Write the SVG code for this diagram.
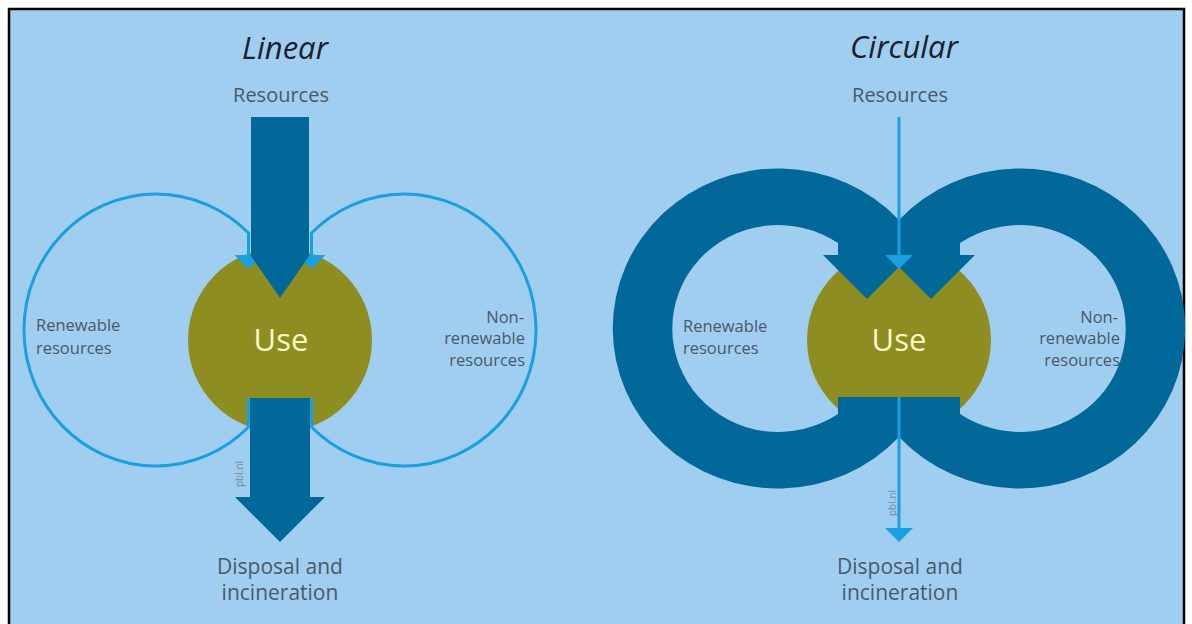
<svg xmlns="http://www.w3.org/2000/svg" xmlns:xlink="http://www.w3.org/1999/xlink" width="1192" height="624" viewBox="0 0 1192 624">
  <style>
    .title { font-family: "Open Sans", "Liberation Sans", sans-serif; font-style: italic; font-size: 31px; fill: #1b202c; text-anchor: middle; }
    .lbl { font-family: "Open Sans", "Liberation Sans", sans-serif; font-size: 20px; fill: #4a5968; text-anchor: middle; }
    .small { font-family: "Open Sans", "Liberation Sans", sans-serif; font-size: 16.5px; fill: #4a5968; }
    .end { text-anchor: end; }
    .use { font-family: "Open Sans", "Liberation Sans", sans-serif; font-size: 31px; fill: #fbf8c8; text-anchor: middle; }
    .pbl { font-family: "Open Sans", "Liberation Sans", sans-serif; font-size: 10px; fill: #7d8c9c; }
    .olive { fill: #8e8d21; }
    .dark { fill: #02689a; }
    .thin { stroke: #1a9fe0; stroke-width: 3; fill: none; }
    .thinhead { fill: #1a9fe0; }
  </style>
  <defs>
    <path id="ringL" d="M 899,220 A 165 160 0 1 0 899,437 L 899,397 L 838,397 L 838,414 A 106 103.5 0 1 1 838,243 L 838,255 L 823,255 L 867,299 L 911,255 L 899,255 Z"/>
  </defs>
  <rect x="0" y="0" width="1192" height="624" fill="#ffffff"/>
  <rect x="9" y="9" width="1175" height="630" fill="#9fcef1" stroke="#000000" stroke-width="2.5"/>

  <!-- Linear -->
  <g id="linear-title">
    <text class="title" x="285" y="59">Linear</text>
  </g>
  <g id="linear-resources">
    <text class="lbl" x="281" y="102">Resources</text>
  </g>
  <g id="linear-use">
    <circle class="olive" cx="280" cy="340" r="92"/>
    <text class="use" x="281" y="351">Use</text>
  </g>
  <g id="linear-renewable">
    <text class="small" x="36" y="331">Renewable</text>
    <text class="small" x="36" y="354">resources</text>
  </g>
  <g id="linear-nonrenewable">
    <text class="small end" x="524" y="323">Non-</text>
    <text class="small end" x="525" y="344">renewable</text>
    <text class="small end" x="525" y="366">resources</text>
  </g>
  <g id="linear-disposal">
    <text class="lbl" x="280" y="574" style="font-size:21px">Disposal and</text>
    <text class="lbl" x="280" y="600" style="font-size:21px">incineration</text>
  </g>
  <g id="linear-connectors">
    <path class="thin" d="M 248.5,398 L 248.5,427 A 132 136 0 1 1 248.5,233 L 248.5,256"/>
    <polygon class="thinhead" points="234.5,255 262.5,255 248.5,269"/>
    <path class="thin" d="M 311.5,398 L 311.5,427 A 132 136 0 1 0 311.5,233 L 311.5,256"/>
    <polygon class="thinhead" points="297.5,255 325.5,255 311.5,269"/>
    <polygon class="dark" points="251,117 309,117 309,256 280,298 251,256"/>
    <polygon class="dark" points="250,398 310,398 310,497 325,497 280,542 235,497 250,497"/>
    <text class="pbl" transform="translate(243,487) rotate(-90)">pbl.nl</text>
  </g>

  <!-- Circular -->
  <g id="circular-title">
    <text class="title" x="904" y="58">Circular</text>
  </g>
  <g id="circular-resources">
    <text class="lbl" x="900" y="102">Resources</text>
  </g>
  <g id="circular-use">
    <circle class="olive" cx="899" cy="340" r="92"/>
    <text class="use" x="899" y="351">Use</text>
  </g>
  <g id="circular-renewable">
    <text class="small" x="683" y="332">Renewable</text>
    <text class="small" x="683" y="354">resources</text>
  </g>
  <g id="circular-nonrenewable">
    <text class="small end" x="1118" y="323">Non-</text>
    <text class="small end" x="1120" y="344">renewable</text>
    <text class="small end" x="1120" y="366">resources</text>
  </g>
  <g id="circular-disposal">
    <text class="lbl" x="900" y="574" style="font-size:21px">Disposal and</text>
    <text class="lbl" x="900" y="600" style="font-size:21px">incineration</text>
  </g>
  <g id="circular-connectors">
    <use xlink:href="#ringL" class="dark"/>
    <use xlink:href="#ringL" class="dark" transform="translate(1798,0) scale(-1,1)"/>
    <line class="thin" x1="899" y1="117" x2="899" y2="256"/>
    <polygon class="thinhead" points="885,255 913,255 899,269"/>
    <line class="thin" x1="899" y1="397" x2="899" y2="529"/>
    <polygon class="thinhead" points="885,528 913,528 899,542"/>
    <text class="pbl" transform="translate(896,516) rotate(-90)">pbl.nl</text>
  </g>
</svg>
